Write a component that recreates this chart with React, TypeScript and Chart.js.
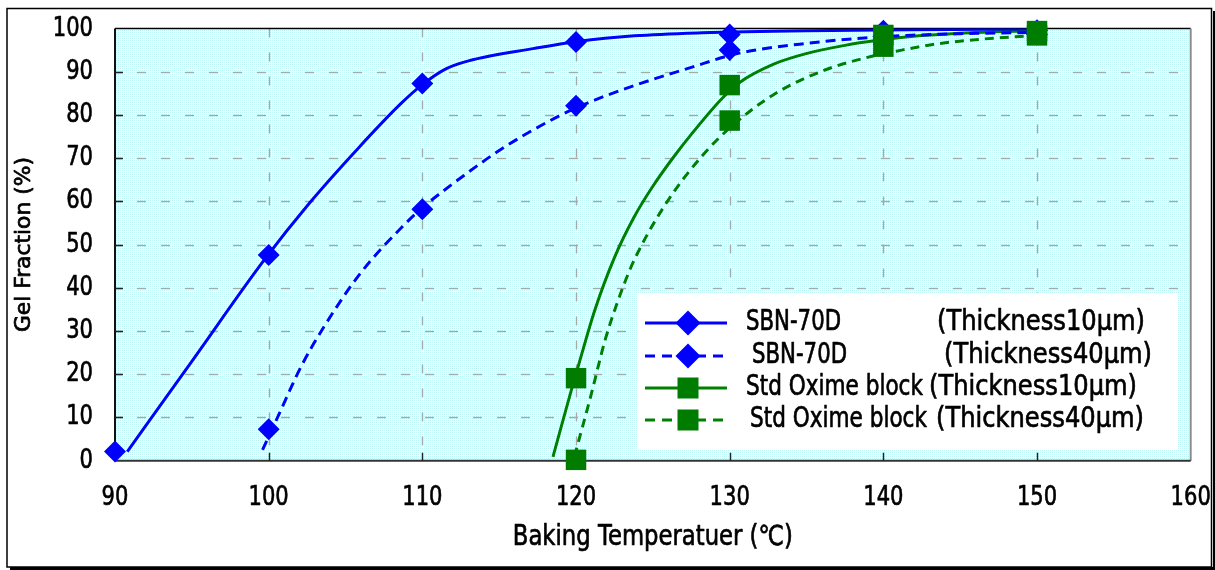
import React, { useEffect, useRef } from 'react';
import { Chart, registerables } from 'chart.js';

Chart.register(...registerables);

const FONT = "'DejaVu Sans', 'Liberation Sans', sans-serif";
const BLUE = '#0000ff';
const GREEN = '#008000';
const SQUARE_FILL = '#007c00';

// axes
const xMin = 90;
const xMax = 160;
const xStep = 10;
const yMin = 0;
const yMax = 100;
const yStep = 10;
const xTitle = 'Baking Temperatuer (℃)';
const yTitle = 'Gel Fraction (%)';

// legend texts
const legendNames = ['SBN-70D', 'SBN-70D', 'Std Oxime block', 'Std Oxime block'];
const legendThickness = ['(Thickness10μm)', '(Thickness40μm)', '(Thickness10μm)', '(Thickness40μm)'];

// measured points
const sbn10Temp = [90, 100, 110, 120, 130, 140, 150];
const sbn10Gel = [2.1, 47.6, 87.3, 96.9, 98.6, 99.5, 99.6];
const sbn40Temp = [100, 110, 120, 130, 140, 150];
const sbn40Gel = [7.3, 58.2, 82.1, 95.0, 98.2, 98.6];
const std10Temp = [120, 130, 140, 150];
const std10Gel = [19.1, 86.9, 98.5, 99.4];
const std40Temp = [120, 130, 140, 150];
const std40Gel = [0.2, 78.7, 95.8, 98.4];

// fitted curves
const sbn10FitTemp = [90.8, 95.0, 99.7, 102.7, 105.8, 108.6, 110.0, 111.5, 113.0, 117.3, 120.1, 123.8, 128.2, 135.0, 142.0, 150.0];
const sbn10FitGel = [2.1, 23.0, 46.4, 59.8, 72.2, 82.6, 87.0, 90.6, 92.5, 95.4, 97.0, 98.3, 99.0, 99.5, 99.7, 99.9];
const sbn40FitTemp = [99.6, 100.6, 102.1, 103.6, 106.0, 108.8, 110.0, 112.9, 115.1, 117.7, 120.1, 123.8, 127.5, 130.5, 135.1, 140.0, 145.0, 150.0];
const sbn40FitGel = [2.5, 10.2, 21.7, 31.0, 43.5, 54.5, 58.5, 66.5, 72.0, 77.5, 81.8, 86.8, 91.0, 94.2, 96.6, 98.1, 98.8, 99.1];
const std10FitTemp = [118.5, 119.7, 120.3, 121.2, 122.5, 123.8, 125.0, 126.4, 127.5, 129.5, 130.6, 132.9, 135.1, 137.5, 139.5, 142.3, 146.0, 150.0];
const std10FitGel = [0.9, 16.4, 23.8, 34.6, 47.0, 56.5, 63.5, 70.5, 75.5, 83.8, 87.4, 91.8, 94.3, 96.1, 97.2, 98.3, 99.1, 99.5];
const std40FitTemp = [119.9, 121.0, 121.9, 123.2, 124.0, 126.0, 128.2, 130.1, 132.9, 136.2, 139.4, 141.2, 143.4, 146.6, 150.0];
const std40FitGel = [1.0, 15.5, 28.0, 41.5, 48.0, 60.3, 70.5, 77.3, 84.8, 90.4, 93.7, 95.0, 96.4, 97.6, 98.4];

const pts = (xs: number[], ys: number[]) => xs.map((x, i) => ({ x, y: ys[i] }));

function drawText(
  ctx: CanvasRenderingContext2D,
  text: string,
  x: number,
  y: number,
  size: number,
  align: CanvasTextAlign,
  opts: { scaleX?: number; width?: number; rotate?: number } = {}
) {
  ctx.save();
  ctx.font = `${size}px ${FONT}`;
  const w = ctx.measureText(text).width;
  const sx = opts.width ? opts.width / w : opts.scaleX ?? 1;
  ctx.translate(x, y);
  if (opts.rotate) ctx.rotate(opts.rotate);
  ctx.scale(sx, 1);
  ctx.textAlign = align;
  ctx.textBaseline = 'middle';
  ctx.fillStyle = '#000';
  ctx.strokeStyle = '#000';
  ctx.lineWidth = 0.7;
  ctx.lineJoin = 'round';
  ctx.fillText(text, 0, 0);
  ctx.strokeText(text, 0, 0);
  ctx.restore();
}

export default function App() {
  const canvasRef = useRef<HTMLCanvasElement | null>(null);

  useEffect(() => {
    document.body.style.overflow = 'hidden';
    const canvas = canvasRef.current!;

    // dotted cyan background pattern
    const tile = document.createElement('canvas');
    tile.width = 2;
    tile.height = 2;
    const tctx = tile.getContext('2d')!;
    tctx.fillStyle = '#ffffff';
    tctx.fillRect(0, 0, 2, 2);
    tctx.fillStyle = '#bcf5f5';
    tctx.fillRect(0, 0, 1, 1);
    const pattern = canvas.getContext('2d')!.createPattern(tile, 'repeat');

    const framePlugin = {
      id: 'frame',
      beforeDraw(chart: any) {
        const { ctx, width, height } = chart;
        ctx.save();
        ctx.fillStyle = '#ffffff';
        ctx.fillRect(0, 0, width, height);
        ctx.strokeStyle = '#000';
        ctx.lineWidth = 1.5;
        ctx.strokeRect(7, 8.5, 1204.5, 558.5);
        ctx.fillStyle = '#000';
        ctx.fillRect(1213, 11, 2, 559);
        ctx.fillRect(10, 567, 1205, 3);
        ctx.restore();
      },
      beforeDatasetsDraw(chart: any) {
        const { ctx, chartArea: a, scales } = chart;
        const sx = scales.x;
        const sy = scales.y;
        ctx.save();
        ctx.fillStyle = pattern as any;
        ctx.fillRect(a.left, a.top, a.right - a.left, a.bottom - a.top);
        // grid lines
        ctx.strokeStyle = '#a8a8a8';
        ctx.lineWidth = 1.5;
        ctx.setLineDash([9, 15]);
        for (let v = yMin + yStep; v < yMax; v += yStep) {
          const y = Math.round(sy.getPixelForValue(v)) + 0.5;
          ctx.lineDashOffset = -22;
          ctx.beginPath();
          ctx.moveTo(a.left, y);
          ctx.lineTo(a.right, y);
          ctx.stroke();
        }
        for (let v = xMin + xStep; v < xMax; v += xStep) {
          const x = Math.round(sx.getPixelForValue(v)) + 0.5;
          ctx.lineDashOffset = 0;
          ctx.beginPath();
          ctx.moveTo(x, a.top);
          ctx.lineTo(x, a.bottom);
          ctx.stroke();
        }
        ctx.setLineDash([]);
        // borders
        ctx.lineWidth = 1.5;
        ctx.strokeStyle = '#000';
        ctx.beginPath();
        ctx.moveTo(a.left, a.top);
        ctx.lineTo(a.right, a.top);
        ctx.stroke();
        ctx.lineWidth = 2;
        ctx.strokeStyle = '#8c8c8c';
        ctx.beginPath();
        ctx.moveTo(a.right, a.top);
        ctx.lineTo(a.right, a.bottom);
        ctx.stroke();
        ctx.strokeStyle = '#111';
        ctx.beginPath();
        ctx.moveTo(a.left, a.top);
        ctx.lineTo(a.left, a.bottom);
        ctx.stroke();
        ctx.strokeStyle = '#333';
        ctx.beginPath();
        ctx.moveTo(a.left, a.bottom);
        ctx.lineTo(a.right, a.bottom);
        ctx.stroke();
        // inward tick marks
        ctx.lineWidth = 1.5;
        ctx.strokeStyle = '#222';
        for (let v = yMin + yStep; v < yMax; v += yStep) {
          const y = Math.round(sy.getPixelForValue(v)) + 0.5;
          ctx.beginPath();
          ctx.moveTo(a.left, y);
          ctx.lineTo(a.left + 8, y);
          ctx.stroke();
        }
        for (let v = xMin + xStep; v < xMax; v += xStep) {
          const x = Math.round(sx.getPixelForValue(v)) + 0.5;
          ctx.beginPath();
          ctx.moveTo(x, a.bottom);
          ctx.lineTo(x, a.bottom - 8);
          ctx.stroke();
        }
        ctx.restore();

        // tick labels, from the library's scales
        sy.ticks.forEach((t: any) => {
          drawText(ctx, String(t.value), a.left - 22, sy.getPixelForValue(t.value), 27, 'right', { scaleX: 0.78 });
        });
        sx.ticks.forEach((t: any) => {
          drawText(ctx, String(t.value), sx.getPixelForValue(t.value), a.bottom + 37, 27, 'center', { scaleX: 0.78 });
        });
        // axis titles
        drawText(ctx, xTitle, (a.left + a.right) / 2, 538, 27.5, 'center', { width: 280 });
        drawText(ctx, yTitle, 25, (a.top + a.bottom) / 2, 21, 'center', { width: 175, rotate: -Math.PI / 2 });
      },
      afterDraw(chart: any) {
        const { ctx } = chart;
        ctx.save();
        ctx.fillStyle = '#ffffff';
        ctx.fillRect(638, 293, 540, 157);
        const rows = [323, 356, 388, 420];
        const nameX = [746, 752, 746, 750];
        const nameW = [95, 95, 177, 177];
        const thickX = [937, 944, 929, 936];
        rows.forEach((y, i) => {
          const color = i < 2 ? BLUE : GREEN;
          ctx.strokeStyle = color;
          ctx.lineWidth = 3;
          ctx.setLineDash(i % 2 === 1 ? [10, 7] : []);
          ctx.beginPath();
          ctx.moveTo(645, y);
          ctx.lineTo(727, y);
          ctx.stroke();
          ctx.setLineDash([]);
          if (i < 2) {
            const r = 12.5;
            ctx.fillStyle = BLUE;
            ctx.beginPath();
            ctx.moveTo(688, y - r);
            ctx.lineTo(688 + r, y);
            ctx.lineTo(688, y + r);
            ctx.lineTo(688 - r, y);
            ctx.closePath();
            ctx.fill();
          } else {
            ctx.fillStyle = SQUARE_FILL;
            ctx.fillRect(688 - 10.5, y - 10.5, 21, 21);
          }
          drawText(ctx, legendNames[i], nameX[i], y, 28, 'left', { width: nameW[i] });
          drawText(ctx, legendThickness[i], thickX[i], y, 28, 'left', { width: 208 });
        });
        ctx.restore();
      },
    };

    const markerBase = { showLine: false, clip: false as any, borderWidth: 0 };
    const curveBase = {
      showLine: true,
      pointRadius: 0,
      pointHoverRadius: 0,
      borderWidth: 3,
      cubicInterpolationMode: 'monotone' as const,
      fill: false,
    };

    const chart = new Chart(canvas, {
      type: 'scatter',
      data: {
        datasets: [
          { ...markerBase, label: 'Std Oxime block 40', data: pts(std40Temp, std40Gel), pointStyle: 'rect', pointRadius: 14.5, backgroundColor: SQUARE_FILL, borderColor: SQUARE_FILL, order: 1 },
          { ...markerBase, label: 'Std Oxime block 10', data: pts(std10Temp, std10Gel), pointStyle: 'rect', pointRadius: 14.5, backgroundColor: SQUARE_FILL, borderColor: SQUARE_FILL, order: 2 },
          { ...markerBase, label: 'SBN-70D 40', data: pts(sbn40Temp, sbn40Gel), pointStyle: 'rectRot', pointRadius: 11, backgroundColor: BLUE, borderColor: BLUE, order: 3 },
          { ...markerBase, label: 'SBN-70D 10', data: pts(sbn10Temp, sbn10Gel), pointStyle: 'rectRot', pointRadius: 11, backgroundColor: BLUE, borderColor: BLUE, order: 4 },
          { ...curveBase, label: 'SBN-70D 10 fit', data: pts(sbn10FitTemp, sbn10FitGel), borderColor: BLUE, order: 5 },
          { ...curveBase, label: 'SBN-70D 40 fit', data: pts(sbn40FitTemp, sbn40FitGel), borderColor: BLUE, borderDash: [10, 6], order: 6 },
          { ...curveBase, label: 'Std 10 fit', data: pts(std10FitTemp, std10FitGel), borderColor: GREEN, order: 7 },
          { ...curveBase, label: 'Std 40 fit', data: pts(std40FitTemp, std40FitGel), borderColor: GREEN, borderDash: [9, 6], order: 8 },
        ],
      },
      options: {
        animation: false,
        responsive: true,
        maintainAspectRatio: false,
        devicePixelRatio: 1,
        layout: { padding: { top: 28.5, right: 24.3, bottom: 0, left: 0 } },
        plugins: { legend: { display: false }, tooltip: { enabled: false } },
        events: [],
        scales: {
          x: {
            type: 'linear',
            min: xMin,
            max: xMax,
            afterFit: (s: any) => { s.height = 109.3; },
            ticks: { stepSize: xStep, display: false },
            grid: { display: false },
            border: { display: false },
          },
          y: {
            type: 'linear',
            min: yMin,
            max: yMax,
            afterFit: (s: any) => { s.width = 115; },
            ticks: { stepSize: yStep, display: false },
            grid: { display: false },
            border: { display: false },
          },
        },
      },
      plugins: [framePlugin],
    });

    return () => chart.destroy();
  }, []);

  return (
    <div style={{ position: 'absolute', left: 0, top: 0, width: 1215, height: 570 }}>
      <canvas ref={canvasRef} />
    </div>
  );
}
